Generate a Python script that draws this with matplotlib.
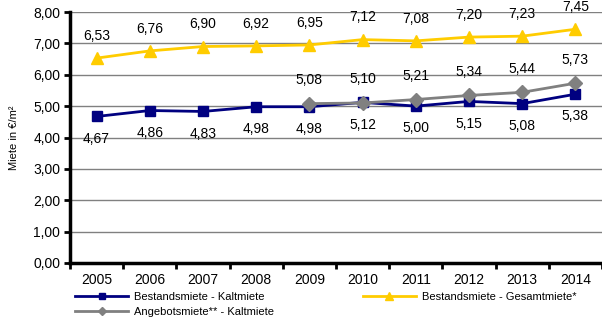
import matplotlib.pyplot as plt
import numpy as np

plt.rcParams['font.family'] = ['Liberation Sans', 'DejaVu Sans']

years = ['2005', '2006', '2007', '2008', '2009', '2010', '2011', '2012', '2013', '2014']
kalt = [4.67, 4.86, 4.83, 4.98, 4.98, 5.12, 5.00, 5.15, 5.08, 5.38]
gesamt = [6.53, 6.76, 6.90, 6.92, 6.95, 7.12, 7.08, 7.20, 7.23, 7.45]
angebot_years = ['2009', '2010', '2011', '2012', '2013', '2014']
angebot = [5.08, 5.10, 5.21, 5.34, 5.44, 5.73]
yticks = [0, 1, 2, 3, 4, 5, 6, 7, 8]

blue = '#000080'
yellow = '#FFCC00'
grey = '#808080'

fig = plt.figure(figsize=(6.02, 3.2), dpi=100)
ax = fig.add_axes([70 / 602, 57 / 320, 532 / 602, 251 / 320])

x = np.arange(len(years))
xa = np.array([years.index(y) for y in angebot_years])

l1, = ax.plot(x, kalt, color=blue, lw=2, marker='s', ms=7, zorder=3,
              label='Bestandsmiete - Kaltmiete')
l2, = ax.plot(x, gesamt, color=yellow, lw=2, marker='^', ms=9, zorder=4,
              label='Bestandsmiete - Gesamtmiete*')
l3, = ax.plot(xa, angebot, color=grey, lw=2, marker='D', ms=7, zorder=4,
              label='Angebotsmiete** - Kaltmiete')

def fmt(v):
    return f'{v:.2f}'.replace('.', ',')

for xi, v in zip(x, gesamt):
    ax.annotate(fmt(v), (xi, v), xytext=(0, 11), textcoords='offset points',
                ha='center', va='bottom', fontsize=10)
for xi, v in zip(x, kalt):
    ax.annotate(fmt(v), (xi, v), xytext=(0, -11), textcoords='offset points',
                ha='center', va='top', fontsize=10)
for xi, v in zip(xa, angebot):
    ax.annotate(fmt(v), (xi, v), xytext=(0, 12), textcoords='offset points',
                ha='center', va='bottom', fontsize=10)

ax.set_xlim(-0.5, len(years) - 0.5)
ax.set_ylim(0, 8)
ax.set_yticks(yticks)
ax.set_yticklabels([fmt(v) for v in yticks], fontsize=10)
ax.set_xticks(x)
ax.set_xticklabels(years, fontsize=10)
ax.tick_params(axis='x', length=0, pad=7)
ax.set_xticks(np.arange(-0.5, len(years)), minor=True)
ax.tick_params(axis='x', which='minor', length=4, width=2, direction='out')
ax.tick_params(axis='y', length=4, width=2, direction='out', pad=3)

ax.grid(axis='y', color='#808080', lw=1)
ax.set_axisbelow(True)
for s in ['top', 'right']:
    ax.spines[s].set_visible(False)
ax.spines['left'].set_linewidth(2.5)
ax.spines['bottom'].set_linewidth(2.5)

ax.set_ylabel('Miete in €/m²', fontsize=8, labelpad=10)

# column-major fill: left column gets l1 and l3, right column l2
fig.legend(handles=[l1, l3, l2], loc='upper left', bbox_to_anchor=(75 / 602, 28 / 320),
           ncol=2, frameon=False, fontsize=8, handlelength=4.8,
           columnspacing=8.0, labelspacing=0.45, borderaxespad=0, borderpad=0,
           handletextpad=0.5, markerscale=0.6)

fig.savefig('out.png', dpi=100)
